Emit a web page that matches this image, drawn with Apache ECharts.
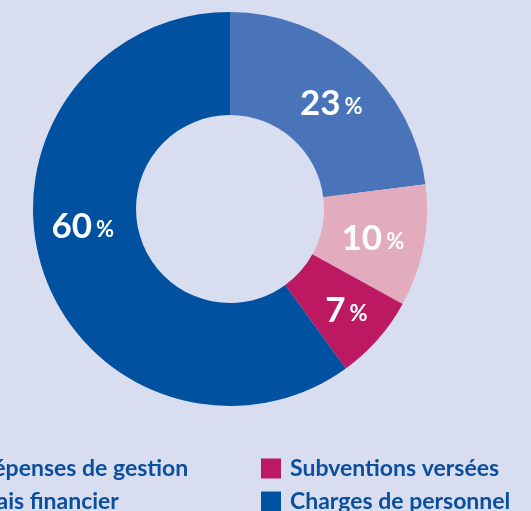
<!DOCTYPE html>
<html>
<head>
<meta charset="utf-8">
<style>
  html, body { margin: 0; padding: 0; background: #d8ddf0; }
  #chart { width: 531px; height: 511px; }
</style>
<script src="https://cdn.jsdelivr.net/npm/echarts@6/dist/echarts.min.js"></script>
</head>
<body>
<div id="chart"></div>
<script>
const categories = ['Dépenses de gestion', 'Frais financier', 'Subventions versées', 'Charges de personnel']
const values = [23, 10, 7, 60]
const colors = ['#4a74b9', '#e3abbe', '#bd1963', '#0051a0']

const chart = echarts.init(document.getElementById('chart'), null, { renderer: 'canvas' })

const legendText = {
  color: '#0a4f9e',
  fontFamily: 'Lato',
  fontWeight: 'bold',
  fontSize: 23,
  lineHeight: 20,
  padding: [0, 0, 0, 4]
}

function makeLegend(names, left) {
  return {
    data: names,
    orient: 'vertical',
    left: left,
    top: 457,
    height: 120,
    padding: 0,
    itemWidth: 20,
    itemHeight: 20,
    itemGap: 10,
    icon: 'rect',
    selectedMode: false,
    textStyle: legendText
  }
}

const option = {
  backgroundColor: '#d8ddf0',
  animation: false,
  color: colors,
  legend: [makeLegend(categories.slice(0, 2), -53), makeLegend(categories.slice(2), 261)],
  series: [
    {
      type: 'pie',
      center: [230, 209],
      radius: [94, 197],
      startAngle: 90,
      clockwise: true,
      silent: true,
      itemStyle: { borderWidth: 0 },
      label: {
        show: true,
        position: 'inside',
        formatter: '{v|{c}}{p|%}',
        rich: {
          v: { color: '#fff', fontFamily: 'Lato', fontWeight: 'bold', fontSize: 35 },
          p: { color: '#fff', fontFamily: 'Lato', fontWeight: 'bold', fontSize: 22, padding: [6, 0, 0, 4] }
        }
      },
      labelLine: { show: false },
      // the big slice label sits higher than its mid-angle
      labelLayout: function (params) {
        if (params.dataIndex === 3) return { dx: -6, dy: -28 }
        if (params.dataIndex === 0) return { dx: 3, dy: 6 }
        if (params.dataIndex === 2) return { dx: 5, dy: 4 }
        return { dx: -3, dy: 2 }
      },
      data: categories.map((name, i) => ({ name, value: values[i] }))
    }
  ]
}

chart.setOption(option)
</script>
</body>
</html>
